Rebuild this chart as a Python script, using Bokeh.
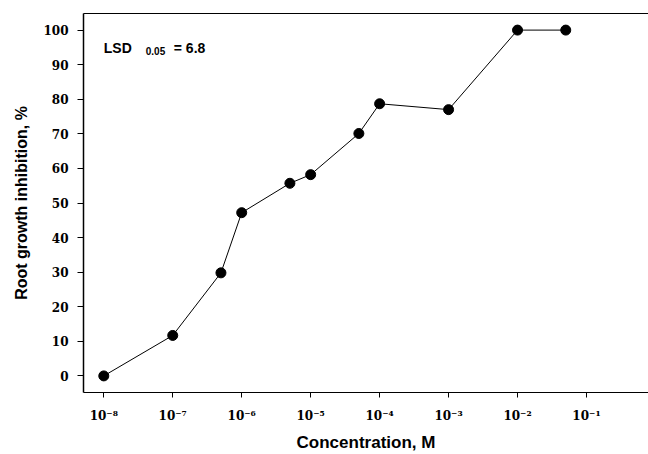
from bokeh.plotting import figure
from bokeh.models import FixedTicker, CustomJSTickFormatter, Label, LogAxis
from bokeh.embed import file_html
from bokeh.resources import INLINE

# Data
concentration = [1e-8, 1e-7, 5e-7, 1e-6, 5e-6, 1e-5, 5e-5, 1e-4, 1e-3, 1e-2, 5e-2]
inhibition = [0, 11.7, 29.8, 47.2, 55.7, 58.2, 70.1, 78.7, 77.0, 100, 100]
x_tick_values = [1e-8, 1e-7, 1e-6, 1e-5, 1e-4, 1e-3, 1e-2, 1e-1]
y_tick_values = [0, 10, 20, 30, 40, 50, 60, 70, 80, 90, 100]
lsd_label = "LSD"
lsd_sub = "0.05"
lsd_value = "= 6.8"

p = figure(width=648, height=454, x_axis_type="log",
           x_range=(10 ** -8.294, 10 ** -0.101), y_range=(-4.8, 104.8),
           output_backend="svg", toolbar_location=None,
           min_border_left=83, min_border_right=0, min_border_top=13, min_border_bottom=62)
p.grid.visible = False
p.outline_line_color = None
p.background_fill_color = "white"
p.border_fill_color = "white"

xa = p.below[0]
ya = p.left[0]

# top frame line (axis with no ticks or labels)
top = LogAxis(ticker=FixedTicker(ticks=[], minor_ticks=[]), major_label_text_font_size="0px",
              major_label_standoff=0,
              major_tick_out=0, major_tick_in=0, minor_tick_out=0, minor_tick_in=0,
              axis_line_color="black", axis_line_width=1.2)
p.add_layout(top, "above")

xa.ticker = FixedTicker(ticks=x_tick_values, minor_ticks=[])
xa.formatter = CustomJSTickFormatter(code="""
const sup = {"-":"\u207b","0":"\u2070","1":"\u00b9","2":"\u00b2","3":"\u00b3","4":"\u2074","5":"\u2075","6":"\u2076","7":"\u2077","8":"\u2078","9":"\u2079"};
const e = Math.round(Math.log10(tick));
return "10" + String(e).split("").map(c => sup[c]).join("");
""")
xa.major_tick_out = 5
xa.major_tick_in = 0
xa.minor_tick_out = 0
xa.minor_tick_in = 0
xa.major_label_standoff = 11
xa.major_label_text_font = "DejaVu Serif"
xa.major_label_text_font_style = "bold"
xa.major_label_text_font_size = "12px"
xa.major_label_text_color = "black"
xa.axis_label = "Concentration, M"
xa.axis_label_text_font = "Liberation Sans"
xa.axis_label_text_font_style = "bold"
xa.axis_label_text_font_size = "17px"
xa.axis_label_text_color = "black"
xa.axis_label_standoff = 7
xa.axis_line_color = "black"
xa.axis_line_width = 1.2
xa.major_tick_line_color = "black"

ya.ticker = FixedTicker(ticks=y_tick_values, minor_ticks=[])
ya.major_tick_out = 6
ya.major_tick_in = 0
ya.minor_tick_out = 0
ya.minor_tick_in = 0
ya.major_label_standoff = 9
ya.major_label_text_font = "DejaVu Serif"
ya.major_label_text_font_style = "bold"
ya.major_label_text_font_size = "12px"
ya.major_label_text_color = "black"
ya.axis_label = "Root growth inhibition, %"
ya.axis_label_text_font = "Liberation Sans"
ya.axis_label_text_font_style = "bold"
ya.axis_label_text_font_size = "16px"
ya.axis_label_text_color = "black"
ya.axis_label_standoff = 10
ya.axis_line_color = "black"
ya.axis_line_width = 1.5
ya.major_tick_line_color = "black"

p.line(concentration, inhibition, line_color="black", line_width=1)
p.scatter(concentration, inhibition, size=10, fill_color="black", line_color="black")

# LSD annotation
x0 = concentration[0]
p.add_layout(Label(x=x0, y=94.7, text=lsd_label, text_font="Liberation Sans",
                   text_font_style="bold", text_font_size="14px", text_color="black",
                   text_baseline="alphabetic", text_align="left"))
p.add_layout(Label(x=x0, y=94.7, x_offset=42, y_offset=-3, text=lsd_sub,
                   text_font="Liberation Sans", text_font_style="bold", text_font_size="10px",
                   text_color="black", text_baseline="alphabetic", text_align="left"))
p.add_layout(Label(x=x0, y=94.7, x_offset=70, text=lsd_value, text_font="Liberation Sans",
                   text_font_style="bold", text_font_size="14px", text_color="black",
                   text_baseline="alphabetic", text_align="left"))

open("out.html", "w").write(file_html(p, INLINE))
